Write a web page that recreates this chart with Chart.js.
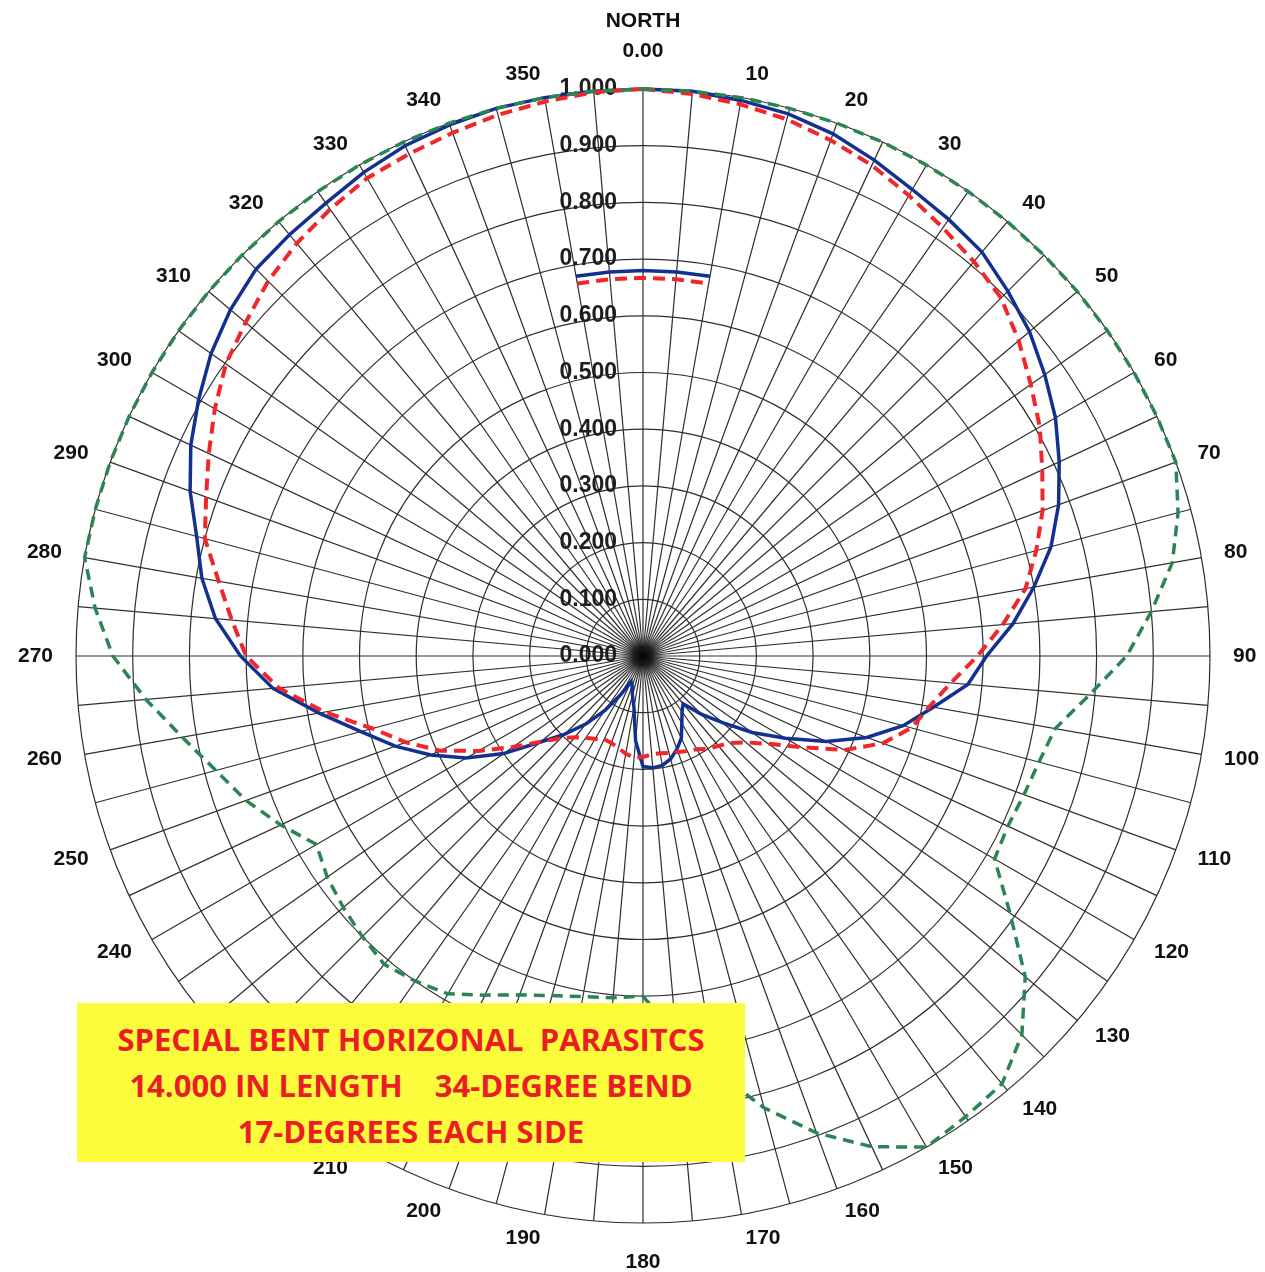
<!DOCTYPE html>
<html>
<head>
<meta charset="utf-8">
<title>Special bent horizontal parasitics - polar pattern</title>
<script src="https://cdn.jsdelivr.net/npm/chart.js"></script>
<style>
  html, body { margin: 0; padding: 0; background: #fff; overflow: hidden; }
  body { width: 1265px; height: 1272px; position: relative; }
  #chart { position: absolute; left: -11px; top: -15px; }
  .note {
    position: absolute; left: 77px; top: 1003px; width: 668px; height: 159px;
    box-sizing: border-box; padding-top: 13px;
    background: #fcfc3c; color: #ec1c24;
    font: bold 31px "Open Sans", sans-serif; line-height: 46px;
    text-align: center; white-space: pre;
  }
</style>
</head>
<body>
<canvas id="chart" width="1300" height="1300"></canvas>
<div class="note">SPECIAL BENT HORIZONAL  PARASITCS
14.000 IN LENGTH    34-DEGREE BEND
17-DEGREES EACH SIDE</div>
<script>
// bearing of every spoke, clockwise from north
const angles = [
  0, 5, 10, 15, 20, 25, 30, 35, 40, 45, 50, 55,
  60, 65, 70, 75, 80, 85, 90, 95, 100, 105, 110, 115,
  120, 125, 130, 135, 140, 145, 150, 155, 160, 165, 170, 175,
  180, 185, 190, 195, 200, 205, 210, 215, 220, 225, 230, 235,
  240, 245, 250, 255, 260, 265, 270, 275, 280, 285, 290, 295,
  300, 305, 310, 315, 320, 325, 330, 335, 340, 345, 350, 355
];

const directionLabels = [
  ['NORTH', '0.00'], '', '10', '', '20', '', '30', '', '40', '', '50', '',
  '60', '', '70', '', '80', '', '90', '', '100', '', '110', '',
  '120', '', '130', '', '140', '', '150', '', '160', '', '170', '',
  '180', '', '190', '', '200', '', '210', '', '220', '', '230', '',
  '240', '', '250', '', '260', '', '270', '', '280', '', '290', '',
  '300', '', '310', '', '320', '', '330', '', '340', '', '350', ''
];

const radialTickValues = [0, 0.1, 0.2, 0.3, 0.4, 0.5, 0.6, 0.7, 0.8, 0.9, 1.0];
const radialTickLabels = ['0.000', '0.100', '0.200', '0.300', '0.400', '0.500',
  '0.600', '0.700', '0.800', '0.900', '1.000'];

// solid blue trace
const blueSolid = [
  1.000, 1.000, 0.995, 0.990, 0.980, 0.965, 0.950, 0.940, 0.930, 0.910, 0.890, 0.865,
  0.840, 0.810, 0.780, 0.745, 0.700, 0.655, 0.606, 0.575, 0.520, 0.475, 0.420, 0.357,
  0.290, 0.235, 0.183, 0.145, 0.110, 0.120, 0.137, 0.160, 0.175, 0.188, 0.196, 0.198,
  0.195, 0.150, 0.092, 0.072, 0.056, 0.050, 0.079, 0.117, 0.156, 0.195, 0.236, 0.300,
  0.360, 0.413, 0.465, 0.515, 0.580, 0.655, 0.710, 0.757, 0.790, 0.815, 0.850, 0.880,
  0.905, 0.930, 0.950, 0.965, 0.970, 0.975, 0.985, 0.993, 0.997, 1.000, 1.000, 1.000
];

// red dashed trace
const redDashed = [
  1.000, 0.995, 0.988, 0.980, 0.968, 0.955, 0.938, 0.922, 0.908, 0.893, 0.865, 0.835,
  0.808, 0.777, 0.750, 0.718, 0.685, 0.637, 0.590, 0.545, 0.513, 0.490, 0.450, 0.392,
  0.322, 0.270, 0.237, 0.217, 0.207, 0.200, 0.190, 0.185, 0.180, 0.177, 0.174, 0.174,
  0.178, 0.180, 0.175, 0.168, 0.163, 0.162, 0.169, 0.176, 0.187, 0.205, 0.235, 0.280,
  0.335, 0.395, 0.445, 0.494, 0.570, 0.645, 0.700, 0.728, 0.760, 0.800, 0.820, 0.845,
  0.872, 0.898, 0.915, 0.935, 0.950, 0.962, 0.973, 0.977, 0.982, 0.988, 0.993, 0.998
];

// green dashed trace
const greenDashed = [
  1.000, 1.000, 1.000, 1.000, 1.000, 1.000, 1.000, 1.000, 1.000, 1.000, 1.000, 1.000,
  1.000, 1.000, 1.000, 0.977, 0.948, 0.900, 0.853, 0.790, 0.738, 0.723, 0.715, 0.710,
  0.716, 0.790, 0.880, 0.945, 0.985, 0.992, 1.000, 0.955, 0.895, 0.825, 0.745, 0.670,
  0.600, 0.605, 0.610, 0.620, 0.636, 0.660, 0.688, 0.700, 0.710, 0.700, 0.690, 0.680,
  0.665, 0.705, 0.745, 0.780, 0.825, 0.880, 0.935, 0.970, 1.000, 1.000, 1.000, 1.000,
  1.000, 1.000, 1.000, 1.000, 1.000, 1.000, 1.000, 1.000, 1.000, 1.000, 1.000, 1.000
];

// the short arcs under the 0.700 label
const arcAngles = [350, 355, 0, 5, 10];
const blueArcValues = [0.680, 0.680, 0.680, 0.680, 0.680];
const redArcValues = [0.667, 0.667, 0.667, 0.667, 0.667];

function onSpokes(arcVals) {
  return angles.map(a => {
    const k = arcAngles.indexOf(a);
    return k >= 0 ? arcVals[k] : null;
  });
}

const FONT = '"Liberation Sans", Arial, sans-serif';
const BLUE = '#12308f';
const RED = '#f0262a';
const GREEN = '#2b8553';

// radial value labels sit left of the north spoke, plus the dark hub
const valueLabels = {
  id: 'valueLabels',
  beforeDatasetsDraw(chart) {
    const r = chart.scales.r;
    const ctx = chart.ctx;
    ctx.save();
    const g = ctx.createRadialGradient(r.xCenter, r.yCenter, 0, r.xCenter, r.yCenter, 26);
    g.addColorStop(0, 'rgba(0,0,0,0.95)');
    g.addColorStop(0.4, 'rgba(25,25,25,0.8)');
    g.addColorStop(0.75, 'rgba(110,110,100,0.3)');
    g.addColorStop(1, 'rgba(255,255,255,0)');
    ctx.fillStyle = g;
    ctx.beginPath();
    ctx.arc(r.xCenter, r.yCenter, 26, 0, Math.PI * 2);
    ctx.fill();

    ctx.font = 'bold 23px ' + FONT;
    ctx.fillStyle = '#1e1e1e';
    ctx.textAlign = 'right';
    ctx.textBaseline = 'middle';
    radialTickValues.forEach((v, i) => {
      ctx.fillText(radialTickLabels[i], r.xCenter - 26, r.yCenter - r.getDistanceFromCenterForValue(v));
    });
    ctx.restore();
  }
};

new Chart(document.getElementById('chart'), {
  type: 'radar',
  data: {
    labels: directionLabels,
    datasets: [{
      data: greenDashed,
      borderColor: GREEN,
      borderWidth: 3.5,
      borderDash: [11, 7],
      fill: false,
      pointRadius: 0,
      order: 1
    }, {
      data: redDashed,
      borderColor: RED,
      borderWidth: 4,
      borderDash: [12, 7],
      fill: false,
      pointRadius: 0,
      order: 2
    }, {
      data: onSpokes(redArcValues),
      borderColor: RED,
      borderWidth: 4,
      borderDash: [12, 7],
      fill: false,
      spanGaps: false,
      pointRadius: 0,
      order: 2
    }, {
      data: blueSolid,
      borderColor: BLUE,
      borderWidth: 3.5,
      fill: false,
      pointRadius: 0,
      order: 3
    }, {
      data: onSpokes(blueArcValues),
      borderColor: BLUE,
      borderWidth: 3.5,
      fill: false,
      spanGaps: false,
      pointRadius: 0,
      order: 3
    }]
  },
  options: {
    responsive: false,
    animation: false,
    events: [],
    layout: { padding: 0 },
    plugins: {
      legend: { display: false },
      tooltip: { enabled: false }
    },
    elements: {
      line: { tension: 0 }
    },
    scales: {
      r: {
        min: 0,
        max: 1,
        ticks: { display: false, stepSize: 0.1 },
        grid: { circular: true, color: '#2e2e2e', lineWidth: 1.2 },
        angleLines: { display: true, color: '#2e2e2e', lineWidth: 1.2 },
        pointLabels: {
          display: true,
          color: '#111',
          padding: (c) => c.index === 36 ? 38 : 23,
          font: (c) => ({
            family: FONT,
            size: 21,
            weight: 'bold',
            lineHeight: c.index === 0 ? '30px' : '2px'
          })
        }
      }
    }
  },
  plugins: [valueLabels]
});
</script>
</body>
</html>
